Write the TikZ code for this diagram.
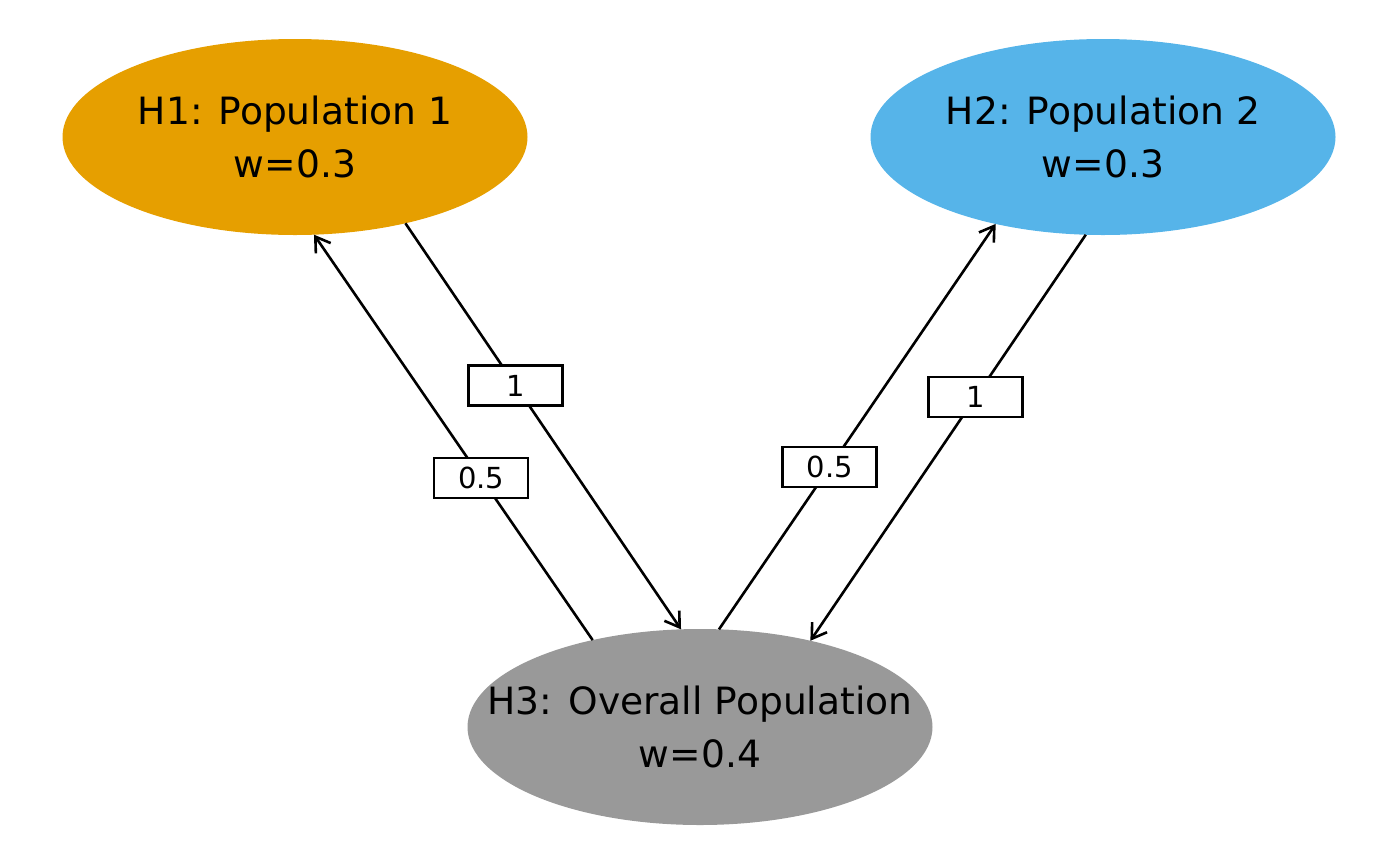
\documentclass[tikz,border=0pt]{standalone}
\usepackage{fontspec}
\setmainfont{DejaVu Sans}
\usetikzlibrary{shapes.geometric,arrows.meta}
\definecolor{hone}{HTML}{E69F00}
\definecolor{htwo}{HTML}{56B4E9}
\definecolor{hthree}{HTML}{999999}
\newcommand{\hypline}[1]{\hbox to 0pt{\hss\rule[-12.8pt]{0pt}{53pt}#1\hss}}
\newcommand{\hyptext}[2]{\vbox{\offinterlineskip\hypline{#1}\hypline{#2}}}
\tikzset{
  hyp/.style={ellipse, fill=#1, draw=none, minimum width=465pt, minimum height=196pt,
    inner sep=0pt, outer sep=0pt, font=\fontsize{37.6}{53}\selectfont},
  wbox/.style={draw=black, fill=white, line width=2.6pt, minimum width=94pt, minimum height=40pt,
    inner sep=0pt, font=\fontsize{29}{33}\selectfont},
  conn/.style={line width=2.6pt, -{Straight Barb[length=14pt,width=18pt,line width=2.6pt]}}
}
\begin{document}
\begin{tikzpicture}[x=1pt,y=-1pt]
\useasboundingbox (0,0) rectangle (1400,865);
\node[hyp=hone] (h1) at (295,137) {\hyptext{H1: Population 1}{w=0.3}};
\node[hyp=htwo] (h2) at (1103,137) {\hyptext{H2: Population 2}{w=0.3}};
\node[hyp=hthree] (h3) at (700,727) {\hyptext{H3: Overall Population}{w=0.4}};
\draw[conn] (h1.-38.9) -- node[wbox, pos=0.4] (l13) {1} (h3.101.2);
\draw[conn] (h3.141.4) -- node[wbox, pos=0.4] (l31) {0.5} (h1.-79.5);
\draw[conn] (h3.79) -- node[wbox, pos=0.4] (l32) {0.5} (h2.-141.2);
\draw[conn] (h2.-100.4) -- node[wbox, pos=0.4] (l23) {1} (h3.38.8);
\end{tikzpicture}
\end{document}
